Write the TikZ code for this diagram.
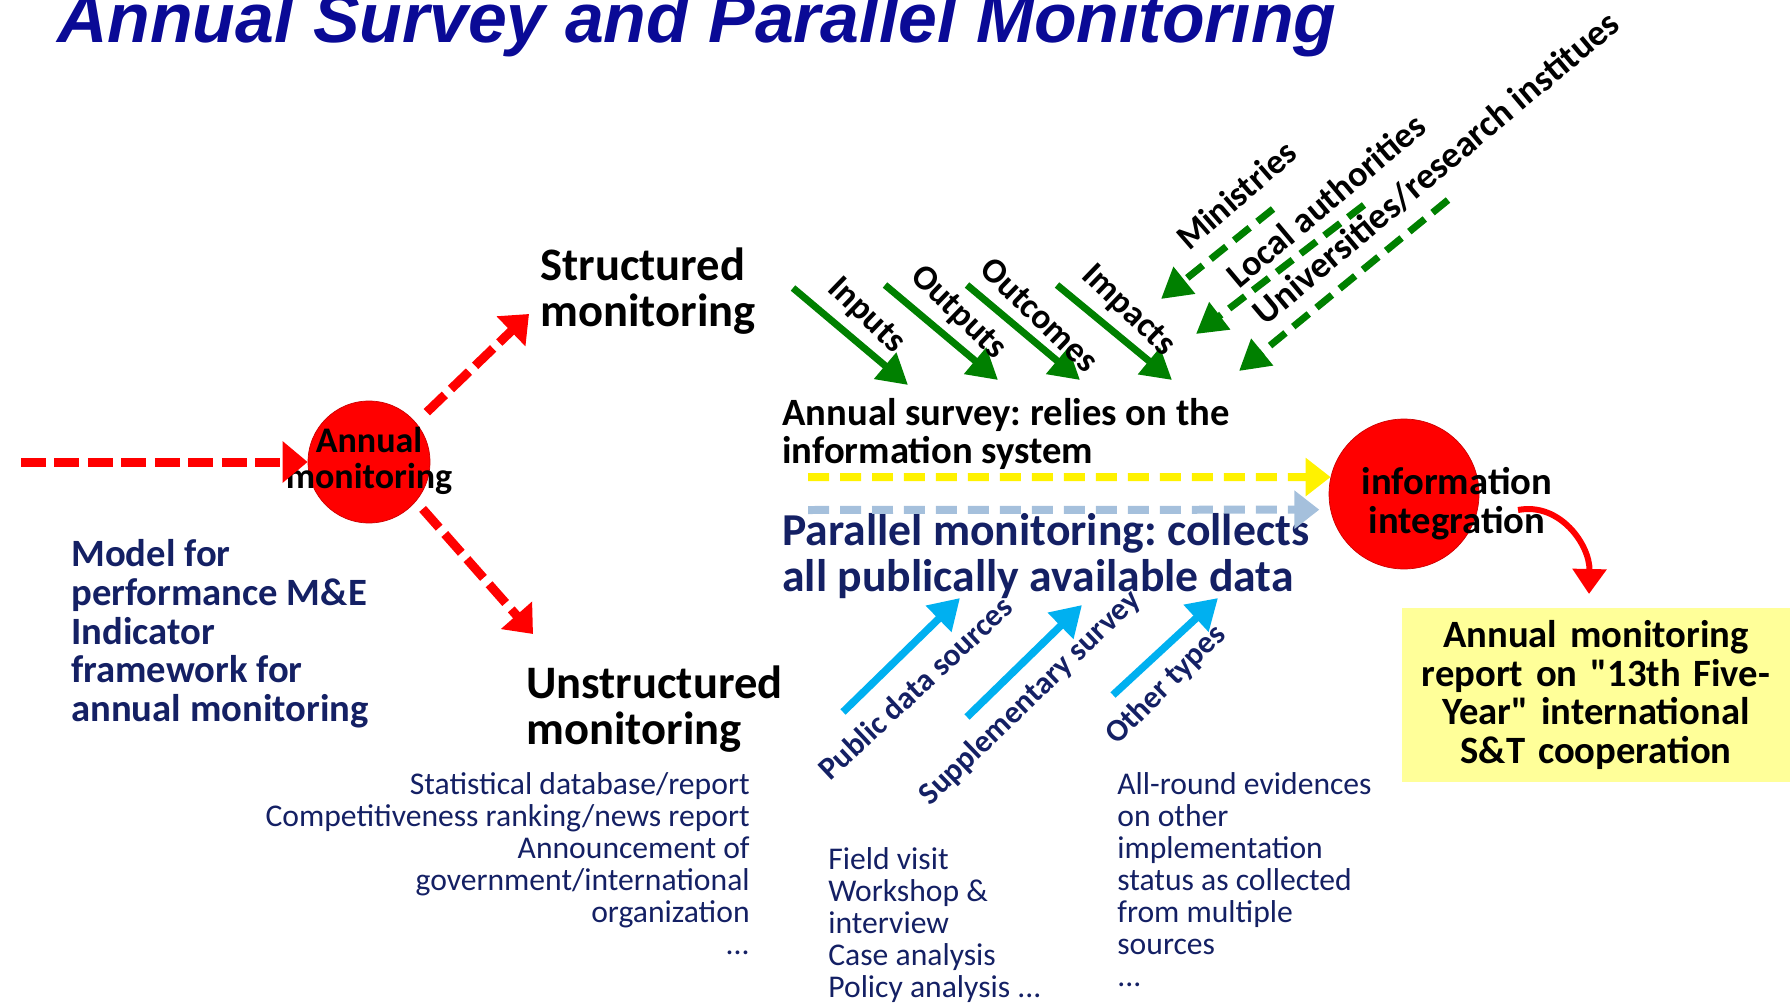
\documentclass[tikz,border=0pt]{standalone}
\usepackage{fontspec}
\setmainfont[Ligatures=TeXOff]{Carlito}
\newfontfamily\titlefont{Liberation Sans}
\usepackage{xcolor}
\usetikzlibrary{positioning, arrows.meta}

\definecolor{titleblue}{RGB}{10,10,150}
\definecolor{navytext}{RGB}{20,32,100}
\definecolor{darkgreen}{RGB}{0,128,0}
\definecolor{skyline}{RGB}{0,176,240}
\definecolor{greyblue}{RGB}{165,192,220}
\definecolor{paleyellow}{RGB}{255,255,153}

\newcommand{\fsz}[2]{\fontsize{#1}{#2}\selectfont}
\frenchspacing

\begin{document}
\begin{tikzpicture}[
        x=0.02cm, y=-0.02cm,
        redcircle/.style={circle, fill=red, draw=red!80!black, inner sep=0pt},
        heading/.style={font=\bfseries\fsz{26.5}{26}, align=left, inner sep=0pt, anchor=west},
        bodytext/.style={font=\bfseries\fsz{22}{22}, align=left, inner sep=0pt, anchor=west},
        listtext/.style={font=\fsz{18}{18.2}, text=navytext, inner sep=0pt},
        armlabel/.style={font=\bfseries\fsz{20}{20}, inner sep=0pt},
        srclabel/.style={font=\bfseries\fsz{18}{18}, text=navytext, inner sep=0pt},
        reddash/.style={draw=red, line width=0.18cm, dash pattern=on 0.5cm off 0.17cm,
            -{Triangle[length=0.5cm, width=0.8cm]}},
        yellowdash/.style={draw=yellow, line width=0.16cm, dash pattern=on 0.42cm off 0.22cm,
            -{Triangle[length=0.5cm, width=0.74cm]}},
        bluedash/.style={yellowdash, draw=greyblue},
        greenline/.style={draw=darkgreen, line width=0.14cm, -{Triangle[length=0.6cm, width=0.66cm]}},
        greendash/.style={greenline, dash pattern=on 0.4cm off 0.2cm},
        cyanline/.style={draw=skyline, line width=0.15cm, -{Triangle[length=0.6cm, width=0.7cm]}},
        redcurve/.style={draw=red, line width=0.12cm, -{Triangle[length=0.5cm, width=0.66cm]}},
    ]
    \useasboundingbox (0,0) rectangle (1790,1003);

    \node[anchor=base west, inner sep=0pt, text=titleblue,
        font=\titlefont\bfseries\itshape\fsz{39.7}{40}] (title) at (57,43)
        {Annual Survey and Parallel Monitoring};

    % the two red circles
    \node[redcircle, minimum size=2.44cm] (annual) at (369,462) {};
    \node[font=\bfseries\fsz{20.5}{20.8}, align=center, inner sep=0pt] (annualtxt) at (369,461)
        {Annual\\monitoring};
    \node[redcircle, minimum size=3cm] (infoint) at (1404,494) {};
    \node[font=\bfseries\fsz{22}{22}, align=center, inner sep=0pt] (infotxt) at (1457,504)
        {information\\integration};

    \coordinate (redin) at (21,462);
    \coordinate (tostruct) at (529,314);
    \coordinate (tounstruct) at (533,634);
    \draw[reddash] (redin) -- (annual);
    \draw[reddash, shorten <=0.3cm] (annual.40) -- (tostruct);
    \draw[reddash, shorten <=0.2cm] (annual.-40) -- (tounstruct);

    \node[heading] (struct) at (540,291) {Structured\\monitoring};
    \node[heading] (unstruct) at (526,709) {Unstructured\\monitoring};

    \node[bodytext, text=navytext] (model) at (71,634)
        {Model for\\performance M\&E\\Indicator\\framework for\\annual monitoring};
    \node[bodytext] (survey) at (782,434) {Annual survey: relies on the\\information system};
    \node[bodytext, text=navytext, font=\bfseries\fsz{26}{26}] (parallel) at (782,556)
        {Parallel monitoring: collects\\all publically available data};

    \coordinate (yellowin) at (808,477);
    \coordinate (bluein) at (808,510);
    \draw[yellowdash] (yellowin) -- (infoint.167);
    \draw[bluedash, shorten >=0.22cm] (bluein) -- (infoint.192);

    % green arrows from the information system
    \coordinate (inputsA) at (793,288);   \coordinate (inputsB) at (908,385);
    \coordinate (outputsA) at (885,285);  \coordinate (outputsB) at (998,380);
    \coordinate (outcomesA) at (967,285); \coordinate (outcomesB) at (1080,380);
    \coordinate (impactsA) at (1057,285); \coordinate (impactsB) at (1172,380);
    \draw[greenline] (inputsA) -- (inputsB);
    \draw[greenline] (outputsA) -- (outputsB);
    \draw[greenline] (outcomesA) -- (outcomesB);
    \draw[greenline] (impactsA) -- (impactsB);
    \node[armlabel, rotate=-44] (inputs) at (866,316) {Inputs};
    \node[armlabel, rotate=-44] (outputs) at (958,313) {Outputs};
    \node[armlabel, rotate=-44] (outcomes) at (1040,315) {Outcomes};
    \node[armlabel, rotate=-44] (impacts) at (1128,311) {Impacts};

    \coordinate (ministA) at (1273,209); \coordinate (ministB) at (1161,299);
    \coordinate (localA) at (1364,205);  \coordinate (localB) at (1196,334);
    \coordinate (univA) at (1448,200);   \coordinate (univB) at (1239,371);
    \draw[greendash] (ministA) -- (ministB);
    \draw[greendash] (localA) -- (localB);
    \draw[greendash] (univA) -- (univB);
    \node[armlabel, rotate=41] (minist) at (1236,195) {Ministries};
    \node[armlabel, rotate=40, font=\bfseries\fsz{20.5}{20}] (local) at (1326,200) {Local authorities};
    \node[armlabel, rotate=40, font=\bfseries\fsz{21}{20}] (univ) at (1436,168) {Universities/research institues};

    % blue arrows into parallel monitoring
    \coordinate (publicA) at (843,712); \coordinate (publicB) at (960,598);
    \coordinate (suppA) at (967,717);   \coordinate (suppB) at (1082,605);
    \coordinate (otherA) at (1113,695); \coordinate (otherB) at (1218,598);
    \draw[cyanline] (publicA) -- (publicB);
    \draw[cyanline] (suppA) -- (suppB);
    \draw[cyanline] (otherA) -- (otherB);
    \node[srclabel, rotate=43] (public) at (915,688) {Public data sources};
    \node[srclabel, rotate=44] (supp) at (1030,698) {Supplementary survey};
    \node[srclabel, rotate=45] (other) at (1166,685) {Other types};

    \node[listtext, anchor=east, align=right] (srcleft) at (750,864)
        {Statistical database/report\\Competitiveness ranking/news report\\Announcement of\\government/international\\organization\\...};
    \node[listtext, anchor=west, align=left] (srcmid) at (828,925)
        {Field visit\\Workshop \&\\interview\\Case analysis\\Policy analysis ...};
    \node[listtext, anchor=west, align=left] (srcright) at (1117,880)
        {All-round evidences\\on other\\implementation\\status as collected\\from multiple\\sources\\...};

    % report box
    \node[fill=paleyellow, text width=7.76cm, minimum height=3.48cm, inner sep=0pt, align=center,
        font=\bfseries\fsz{22}{22}] (report) at (1596,695)
        {Annual monitoring\\report on "13th Five-\\Year" international\\S\&T cooperation};
    \coordinate (curvestart) at (1518,510);
    \coordinate (reportin) at (1589,594);
    \draw[redcurve] (curvestart) .. controls (1560,502) and (1590,545) .. (reportin);
\end{tikzpicture}
\end{document}
